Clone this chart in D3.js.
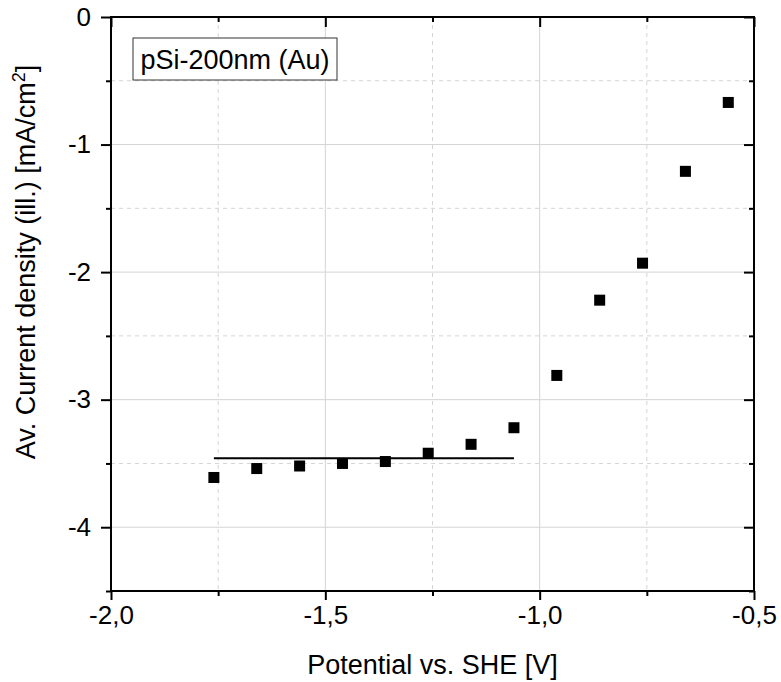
<!DOCTYPE html>
<html>
<head>
<meta charset="utf-8">
<script src="https://cdn.jsdelivr.net/npm/d3@7"></script>
<style>
  html, body { margin: 0; padding: 0; background: #fff; }
  svg text { font-family: "Liberation Sans", Arial, sans-serif; fill: #000; }
</style>
</head>
<body>
<svg id="chart" width="781" height="682"></svg>
<script>
// Measured average photocurrent density vs. applied potential
const potential = [-1.76, -1.66, -1.56, -1.46, -1.36, -1.26, -1.16, -1.06, -0.96, -0.86, -0.76, -0.66, -0.56];
const current   = [-3.61, -3.54, -3.52, -3.50, -3.485, -3.42, -3.35, -3.22, -2.81, -2.22, -1.93, -1.21, -0.67];

// Plateau (saturation current) guide line
const plateauX = [-1.76, -1.06];
const plateauY = -3.46;

const xMajor = [-2.0, -1.5, -1.0, -0.5];
const xMinor = [-1.75, -1.25, -0.75];
const yMajor = [0, -1, -2, -3, -4];
const yMinor = [-0.5, -1.5, -2.5, -3.5, -4.5];

const legendText = "pSi-200nm (Au)";
const xTitle = "Potential vs. SHE [V]";

const W = 781, H = 682;
const m = { left: 111, right: 27, top: 17, bottom: 91 };
const pw = W - m.left - m.right, ph = H - m.top - m.bottom;
const FS = "26px";
const TS = "27px";

const svg = d3.select("#chart");
const g = svg.append("g").attr("transform", `translate(${m.left},${m.top})`);

const x = d3.scaleLinear().domain([-2.0, -0.5]).range([0, pw]);
const y = d3.scaleLinear().domain([-4.5, 0]).range([ph, 0]);

const fmtX = d => d3.format(".1f")(d).replace(".", ",").replace("−", "-");
const fmtY = d => d3.format("d")(d).replace("−", "-");

const gridCol = "#d4d4d4";
// minor grid (dashed)
g.selectAll(".gx-minor").data(xMinor).join("line")
  .attr("x1", d => x(d)).attr("x2", d => x(d)).attr("y1", 0).attr("y2", ph)
  .attr("stroke", gridCol).attr("stroke-width", 1).attr("stroke-dasharray", "4,4");
g.selectAll(".gy-minor").data(yMinor.filter(d => d > -4.5)).join("line")
  .attr("y1", d => y(d)).attr("y2", d => y(d)).attr("x1", 0).attr("x2", pw)
  .attr("stroke", gridCol).attr("stroke-width", 1).attr("stroke-dasharray", "4,4");
// major grid (solid)
g.selectAll(".gx-major").data(xMajor.filter(d => d > -2 && d < -0.5)).join("line")
  .attr("x1", d => x(d)).attr("x2", d => x(d)).attr("y1", 0).attr("y2", ph)
  .attr("stroke", gridCol).attr("stroke-width", 1);
g.selectAll(".gy-major").data(yMajor.filter(d => d < 0)).join("line")
  .attr("y1", d => y(d)).attr("y2", d => y(d)).attr("x1", 0).attr("x2", pw)
  .attr("stroke", gridCol).attr("stroke-width", 1);

function styleAxis(sel) {
  sel.select(".domain").remove();
  sel.selectAll("line").attr("stroke", "#000").attr("stroke-width", 2);
  sel.selectAll("text").style("font-size", FS).attr("fill", "#000");
}

// bottom axis: major + minor ticks outward
g.append("g").attr("transform", `translate(0,${ph})`)
  .call(d3.axisBottom(x).tickValues(xMajor).tickFormat(fmtX).tickSize(9).tickPadding(6))
  .call(styleAxis);
g.append("g").attr("transform", `translate(0,${ph})`)
  .call(d3.axisBottom(x).tickValues(xMinor).tickFormat("").tickSize(5))
  .call(styleAxis);
// left axis
g.append("g")
  .call(d3.axisLeft(y).tickValues(yMajor).tickFormat(fmtY).tickSize(10).tickPadding(10))
  .call(styleAxis);
g.append("g")
  .call(d3.axisLeft(y).tickValues(yMinor).tickFormat("").tickSize(5))
  .call(styleAxis);
// top axis: ticks inward
g.append("g")
  .call(d3.axisTop(x).tickValues(xMajor).tickFormat("").tickSize(-10))
  .call(styleAxis);
g.append("g")
  .call(d3.axisTop(x).tickValues(xMinor).tickFormat("").tickSize(-5))
  .call(styleAxis);
// right axis: ticks inward
g.append("g").attr("transform", `translate(${pw},0)`)
  .call(d3.axisRight(y).tickValues(yMajor).tickFormat("").tickSize(-10))
  .call(styleAxis);
g.append("g").attr("transform", `translate(${pw},0)`)
  .call(d3.axisRight(y).tickValues(yMinor).tickFormat("").tickSize(-5))
  .call(styleAxis);

// frame
g.append("rect").attr("x", 0).attr("y", 0).attr("width", pw).attr("height", ph)
  .attr("fill", "none").attr("stroke", "#000").attr("stroke-width", 2);

// plateau line
g.append("line")
  .attr("x1", x(plateauX[0])).attr("x2", x(plateauX[1]))
  .attr("y1", y(plateauY)).attr("y2", y(plateauY))
  .attr("stroke", "#000").attr("stroke-width", 2);

// data markers
const s = 11;
g.selectAll(".pt").data(potential.map((p, i) => [p, current[i]])).join("rect")
  .attr("x", d => x(d[0]) - s / 2).attr("y", d => y(d[1]) - s / 2)
  .attr("width", s).attr("height", s).attr("fill", "#000");

// legend box
const lg = g.append("g").attr("transform", "translate(22,21)");
lg.append("rect").attr("x", 0).attr("y", 0).attr("width", 204).attr("height", 42)
  .attr("fill", "#fff").attr("stroke", "#333").attr("stroke-width", 1);
lg.append("text").attr("x", 102).attr("y", 31).attr("text-anchor", "middle")
  .style("font-size", TS).text(legendText);

// axis titles
svg.append("text").attr("x", m.left + pw / 2).attr("y", 674).attr("text-anchor", "middle")
  .style("font-size", TS).text(xTitle);

const yt = svg.append("text").attr("transform", "translate(35,262) rotate(-90)")
  .attr("text-anchor", "middle").style("font-size", TS);
yt.append("tspan").text("Av. Current density (ill.) [mA/cm");
yt.append("tspan").attr("dy", -10).style("font-size", "18px").text("2");
yt.append("tspan").attr("dy", 10).text("]");
</script>
</body>
</html>
